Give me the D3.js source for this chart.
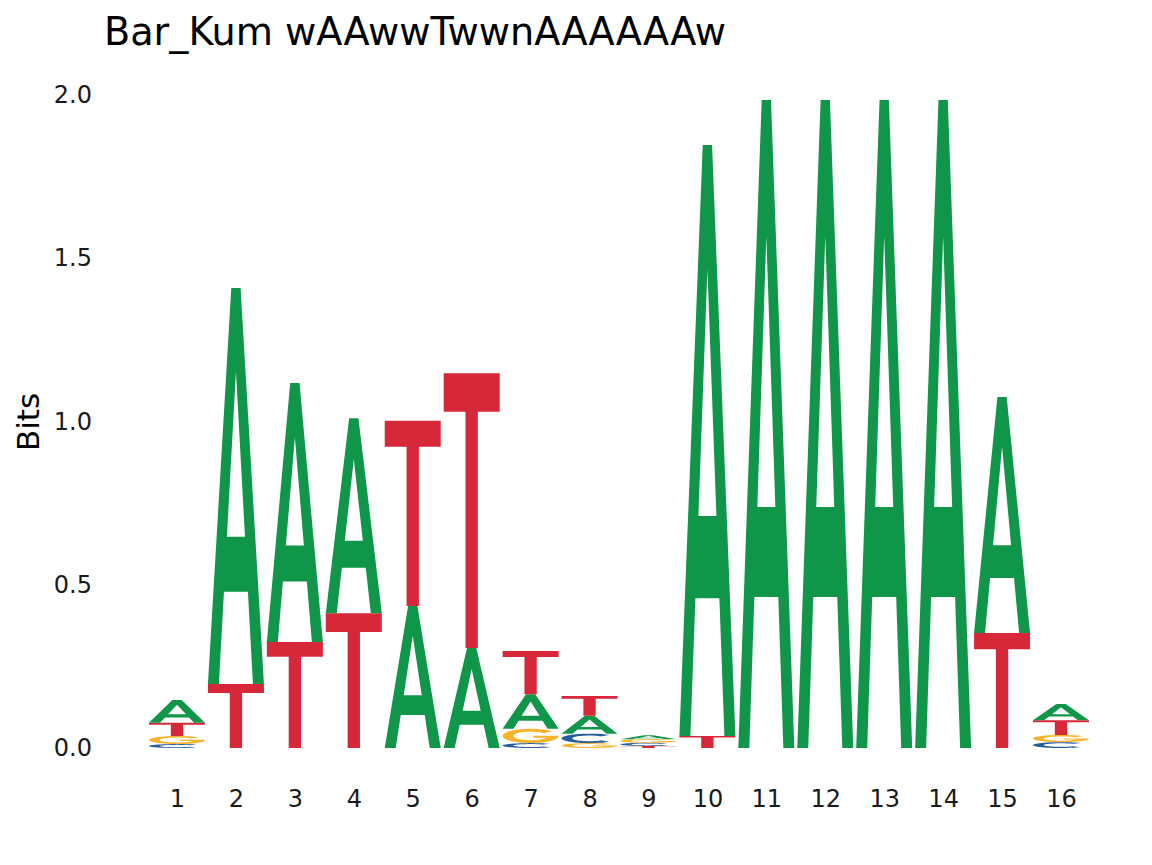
<!DOCTYPE html>
<html><head><meta charset="utf-8">
<script src="https://cdn.jsdelivr.net/npm/d3@7"></script>
<style>body{margin:0;background:#fff}</style>
</head><body>
<svg id="c" width="1152" height="865"></svg>
<script>
const positions = [1,2,3,4,5,6,7,8,9,10,11,12,13,14,15,16];
const letters = ["A","C","G","T"];
const bitsA = [0.070,1.213,0.793,0.597,0.435,0.306,0.106,0.055,0.012,1.810,1.985,1.985,1.985,1.985,0.723,0.050];
const bitsC = [0.012,0,0,0,0,0,0.015,0.029,0.010,0,0,0,0,0,0,0.018];
const bitsG = [0.025,0,0,0,0,0,0.044,0.015,0.011,0,0,0,0,0,0,0.022];
const bitsT = [0.040,0.196,0.325,0.413,0.567,0.842,0.132,0.060,0.006,0.037,0,0,0,0,0.352,0.045];
const yTicks = [0,0.5,1,1.5,2];
const yTickLabels = ["0.0","0.5","1.0","1.5","2.0"];
const titleText = "Bar_Kum wAAwwTwwnAAAAAAw";
const yLabel = "Bits";
const colors = {A:"#109648",C:"#255C99",G:"#F7B32B",T:"#D62839"};

const svg = d3.select("#c");
const font = "DejaVu Sans, sans-serif";
const x = d3.scaleLinear().domain([1,16]).range([177,1061]);
const y = d3.scaleLinear().domain([0,2]).range([748,95]);
const lw = 0.95*(x(2)-x(1));

// glyph geometry in unit box (x right, y up)
function ell(cx,cy,rx,ry,a){const r=a*Math.PI/180;return [cx+rx*Math.cos(r),cy+ry*Math.sin(r)];}
function arcPts(rx,ry,a0,a1,n){const p=[];for(let i=0;i<=n;i++){p.push(ell(0.5,0.5,rx,ry,a0+(a1-a0)*i/n));}return p;}
const glyphs = {
  A: [[[0,0],[0.196,0],[0.286,0.233],[0.714,0.233],[0.804,0],[1,0],[0.583,1],[0.417,1]],
      [[0.339,0.372],[0.661,0.372],[0.5,0.79]]],
  T: [[[0,1],[1,1],[1,0.86],[0.61,0.86],[0.61,0],[0.39,0],[0.39,0.86],[0,0.86]]],
  C: [arcPts(0.5,0.5,45,315,40).concat(arcPts(0.31,0.30,315,45,40))],
  G: [arcPts(0.5,0.5,40,350,40).concat([[1.0,0.52],[0.55,0.52],[0.55,0.38]]).concat(arcPts(0.31,0.30,335,40,40))]
};
function glyphPath(l,cx,yb,yt){
  const x0=cx-lw/2, h=yb-yt;
  return glyphs[l].map(poly=>"M"+poly.map(p=>[(x0+p[0]*lw).toFixed(2),(yb-p[1]*h).toFixed(2)].join(",")).join("L")+"Z").join("");
}
const series = {A:bitsA,C:bitsC,G:bitsG,T:bitsT};
const marks=[];
positions.forEach((pos,i)=>{
  const items = letters.map(l=>({l,v:series[l][i]})).filter(d=>d.v>0).sort((a,b)=>a.v-b.v);
  let cum=0;
  items.forEach(d=>{marks.push({pos,l:d.l,y0:cum,y1:cum+d.v});cum+=d.v;});
});
svg.append("g").selectAll("path").data(marks).join("path")
  .attr("d",d=>glyphPath(d.l,x(d.pos),y(d.y0),y(d.y1)))
  .attr("fill",d=>colors[d.l]).attr("fill-rule","evenodd");

// axes
const ya = svg.append("g").attr("transform","translate(95,0)")
  .call(d3.axisLeft(y).tickValues(yTicks).tickFormat((d,i)=>yTickLabels[i]).tickSize(0).tickPadding(3));
ya.select(".domain").remove();
ya.selectAll("text").attr("font-family",font).attr("font-size",24).attr("fill","#1a1a1a");
const xa = svg.append("g").attr("transform","translate(0,748)")
  .call(d3.axisBottom(x).tickValues(positions).tickFormat(d=>String(d)).tickSize(0).tickPadding(42));
xa.select(".domain").remove();
xa.selectAll("text").attr("font-family",font).attr("font-size",24).attr("fill","#1a1a1a");

svg.append("text").attr("x",104).attr("y",45).attr("font-family",font).attr("font-size",38.2)
  .attr("fill","#000").text(titleText);
svg.append("text").attr("transform","translate(39,422) rotate(-90)").attr("text-anchor","middle")
  .attr("font-family",font).attr("font-size",31).attr("fill","#000").text(yLabel);
</script>
</body></html>
